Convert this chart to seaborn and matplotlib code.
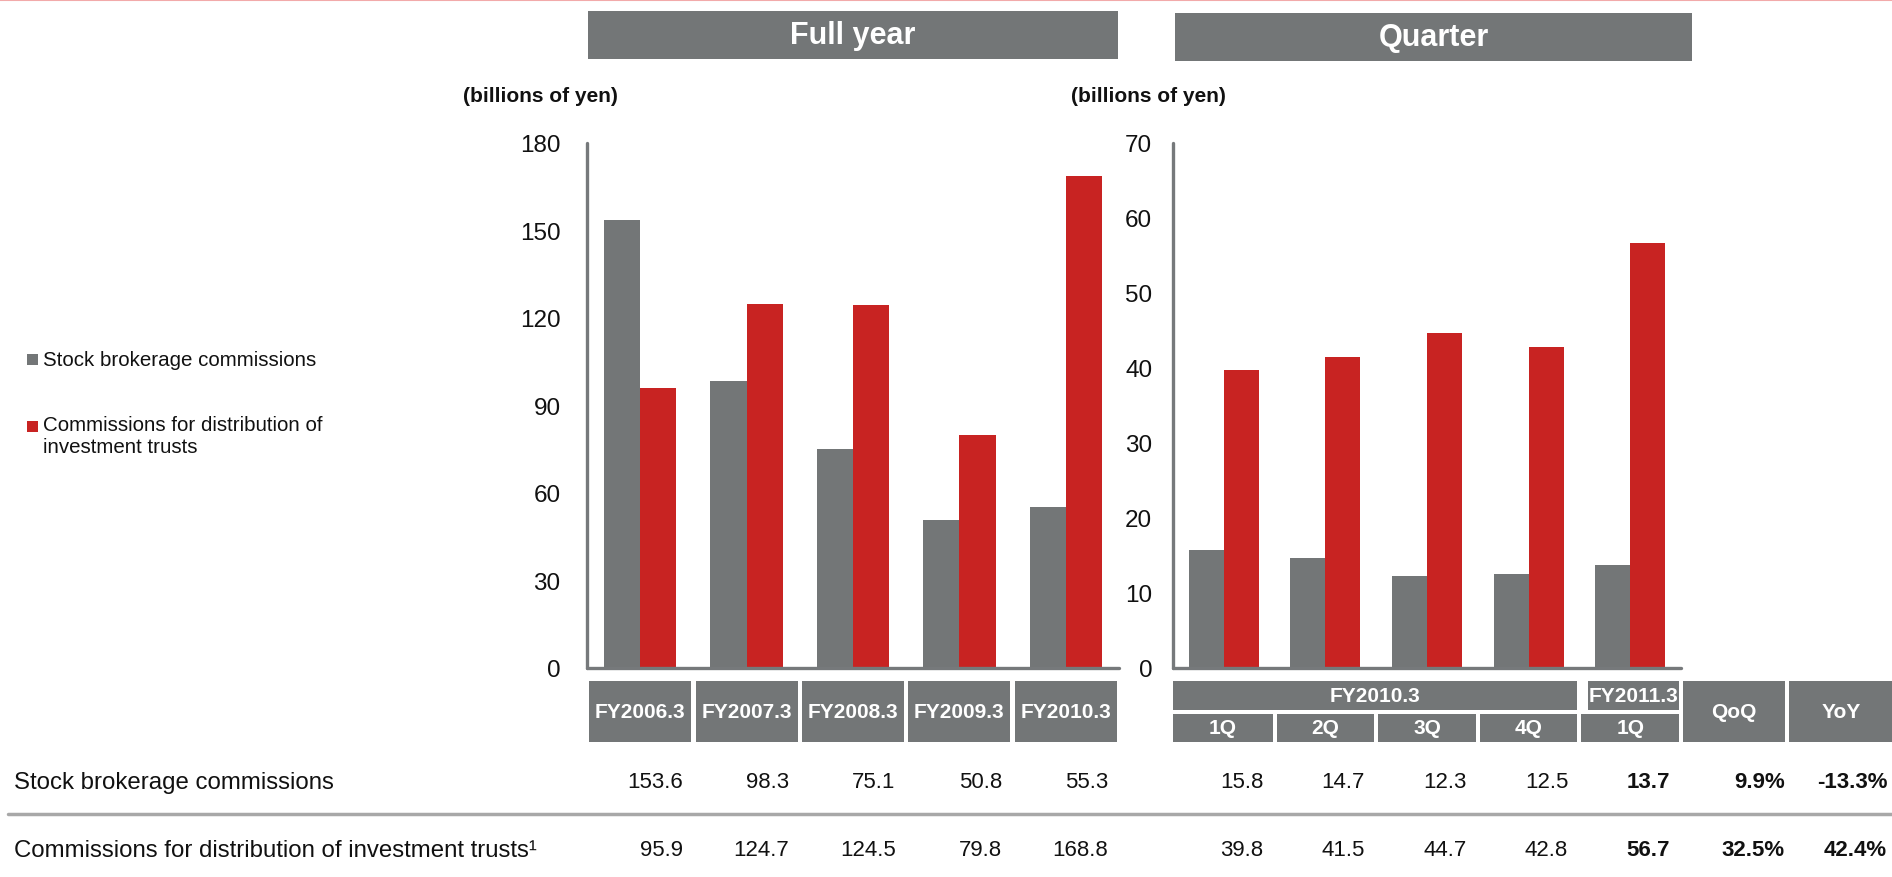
import numpy as np
import pandas as pd
import matplotlib
matplotlib.use("Agg")
import matplotlib.pyplot as plt
from matplotlib.patches import Rectangle
from matplotlib.lines import Line2D
from matplotlib.transforms import blended_transform_factory
import seaborn as sns

# ── Datos ──────────────────────────────────────────────────────────
series = ["Stock brokerage commissions",
          "Commissions for distribution of investment trusts"]

full_years = ["FY2006.3", "FY2007.3", "FY2008.3", "FY2009.3", "FY2010.3"]
stock_full = [153.6, 98.3, 75.1, 50.8, 55.3]
trust_full = [95.9, 124.7, 124.5, 79.8, 168.8]

quarter_keys = ["FY2010.3 1Q", "FY2010.3 2Q", "FY2010.3 3Q", "FY2010.3 4Q", "FY2011.3 1Q"]
quarter_labels = ["1Q", "2Q", "3Q", "4Q", "1Q"]
stock_q = [15.8, 14.7, 12.3, 12.5, 13.7]
trust_q = [39.8, 41.5, 44.7, 42.8, 56.7]

qoq = ["9.9%", "32.5%"]
yoy = ["-13.3%", "42.4%"]

row_labels = ["Stock brokerage commissions",
              "Commissions for distribution of investment trusts\u00b9"]

df_full = pd.DataFrame({
    "period": full_years * 2,
    "series": [series[0]] * 5 + [series[1]] * 5,
    "value":  stock_full + trust_full,
})
df_q = pd.DataFrame({
    "period": quarter_keys * 2,
    "series": [series[0]] * 5 + [series[1]] * 5,
    "value":  stock_q + trust_q,
})

# ── Estilo ─────────────────────────────────────────────────────────
GRAY  = "#737677"
RED   = "#c82322"
SPINE = "#76797b"
TEXT  = "#111111"

sns.set_style("white")
plt.rcParams["font.family"] = ["Liberation Sans", "DejaVu Sans"]
plt.rcParams["text.color"] = TEXT

W, H = 1892, 878
fig = plt.figure(figsize=(W / 100, H / 100), dpi=100)
fig.patch.set_facecolor("white")


def fx(px):
    return px / W


def fy(py):
    return 1 - py / H


ax_full = fig.add_axes([fx(587), fy(669), (1119 - 587) / W, (669 - 144) / H])
ax_q = fig.add_axes([fx(1173), fy(669), (1681 - 1173) / W, (669 - 144) / H])

sns.barplot(data=df_full, x="period", y="value", hue="series",
            order=full_years, hue_order=series, palette=[GRAY, RED],
            saturation=1, width=0.68, gap=0, linewidth=0, errorbar=None,
            legend=False, ax=ax_full)
sns.barplot(data=df_q, x="period", y="value", hue="series",
            order=quarter_keys, hue_order=series, palette=[GRAY, RED],
            saturation=1, width=0.69, gap=0, linewidth=0, errorbar=None,
            legend=False, ax=ax_q)

for ax, ymax, step in [(ax_full, 180, 30), (ax_q, 70, 10)]:
    ax.set_xlabel("")
    ax.set_ylabel("")
    ax.set_xticks(np.arange(-0.5, 5, 1))
    ax.set_xticklabels([])
    ax.set_yticks(range(0, ymax + 1, step))
    for s in ["top", "right"]:
        ax.spines[s].set_visible(False)
    for s in ["left", "bottom"]:
        ax.spines[s].set_color(SPINE)
        ax.spines[s].set_linewidth(2.4)
        ax.spines[s].set_capstyle("round")
    ax.tick_params(axis="both", direction="out", color=SPINE, width=2.2, length=5)
    ax.tick_params(axis="y", labelsize=17.5, labelcolor=TEXT)

ax_full.tick_params(axis="y", pad=14)
ax_q.tick_params(axis="y", pad=10)

# ── Cabeceras superiores ───────────────────────────────────────────
for ax, x0, x1, y0, y1, title in [(ax_full, 588, 1118, 12, 60, "Full year"),
                                  (ax_q, 1175, 1692, 14, 62, "Quarter")]:
    fig.add_artist(Rectangle((fx(x0), fy(y1)), (x1 - x0) / W, (y1 - y0) / H,
                             transform=fig.transFigure, color=GRAY, lw=0))
    fig.text(fx((x0 + x1) / 2), fy((y0 + y1) / 2), title, ha="center", va="center",
             color="white", fontsize=22, fontweight="bold")

fig.text(fx(540), fy(97), "(billions of yen)", ha="center", va="center",
         fontsize=15, fontweight="bold")
fig.text(fx(1148), fy(97), "(billions of yen)", ha="center", va="center",
         fontsize=15, fontweight="bold")

fig.add_artist(Line2D([0, 1], [fy(1), fy(1)], transform=fig.transFigure,
                      color="#f2aaaa", lw=1.5))

# ── Leyenda ────────────────────────────────────────────────────────
fig.add_artist(Rectangle((fx(27), fy(366)), 11 / W, 11 / H,
                         transform=fig.transFigure, color=GRAY, lw=0))
fig.text(fx(43), fy(361), series[0], ha="left", va="center", fontsize=14.8)
fig.add_artist(Rectangle((fx(27), fy(433)), 11 / W, 11 / H,
                         transform=fig.transFigure, color=RED, lw=0))
fig.text(fx(43), fy(416), "Commissions for distribution of\ninvestment trusts",
         ha="left", va="top", fontsize=14.8, linespacing=1.2)

# ── Tabla inferior ─────────────────────────────────────────────────
BOX_T, BOX_M1, BOX_M2, BOX_B = 682, 711, 715, 743
ROW1, ROW2 = 783, 851
g = 0.02


def box(ax, xa, xb, ya, yb, label, size=15):
    tr = blended_transform_factory(ax.transData, fig.transFigure)
    ax.add_patch(Rectangle((xa, fy(yb)), xb - xa, (yb - ya) / H, transform=tr,
                           color=GRAY, lw=0, clip_on=False))
    ax.text((xa + xb) / 2, fy((ya + yb) / 2), label, transform=tr, ha="center",
            va="center", color="white", fontsize=size, fontweight="bold")


# Full year
tr_f = blended_transform_factory(ax_full.transData, fig.transFigure)
for i, lab in enumerate(full_years):
    box(ax_full, i - 0.5 + g, i + 0.5 - g, BOX_T, BOX_B, lab)
    ax_full.text(i + 0.4, fy(ROW1), f"{stock_full[i]:.1f}", transform=tr_f,
                 ha="right", va="center", fontsize=16)
    ax_full.text(i + 0.4, fy(ROW2), f"{trust_full[i]:.1f}", transform=tr_f,
                 ha="right", va="center", fontsize=16)

# Quarter
tr_q = blended_transform_factory(ax_q.transData, fig.transFigure)
box(ax_q, -0.5, 3.5 - g, BOX_T, BOX_M1, "FY2010.3")
box(ax_q, 3.5 + g * 4, 4.5 - g, BOX_T, BOX_M1, "FY2011.3")
for i, lab in enumerate(quarter_labels):
    box(ax_q, i - 0.5 + (g if i else 0), i + 0.5 - g, BOX_M2, BOX_B, lab)
    bold = "bold" if i == 4 else "normal"
    ax_q.text(i + 0.39, fy(ROW1), f"{stock_q[i]:.1f}", transform=tr_q,
              ha="right", va="center", fontsize=16, fontweight=bold)
    ax_q.text(i + 0.39, fy(ROW2), f"{trust_q[i]:.1f}", transform=tr_q,
              ha="right", va="center", fontsize=16, fontweight=bold)
box(ax_q, 4.52, 5.52, BOX_T, BOX_B, "QoQ")
box(ax_q, 5.56, 6.6, BOX_T, BOX_B, "YoY")
for j, y in enumerate([ROW1, ROW2]):
    ax_q.text(5.52, fy(y), qoq[j], transform=tr_q, ha="right", va="center",
              fontsize=16, fontweight="bold")
    ax_q.text(6.53, fy(y), yoy[j], transform=tr_q, ha="right", va="center",
              fontsize=16, fontweight="bold")

fig.text(fx(14), fy(ROW1), row_labels[0], ha="left", va="center", fontsize=17.3)
fig.text(fx(14), fy(ROW2), row_labels[1], ha="left", va="center", fontsize=17.3)
fig.add_artist(Line2D([fx(8), 1], [fy(815), fy(815)], transform=fig.transFigure,
                      color="#a8a8a8", lw=2.5))

for ax, ymax in [(ax_full, 180), (ax_q, 70)]:
    ax.set_xlim(-0.5, 4.5)
    ax.set_ylim(0, ymax)

fig.savefig("out.png", dpi=100, facecolor="white")
